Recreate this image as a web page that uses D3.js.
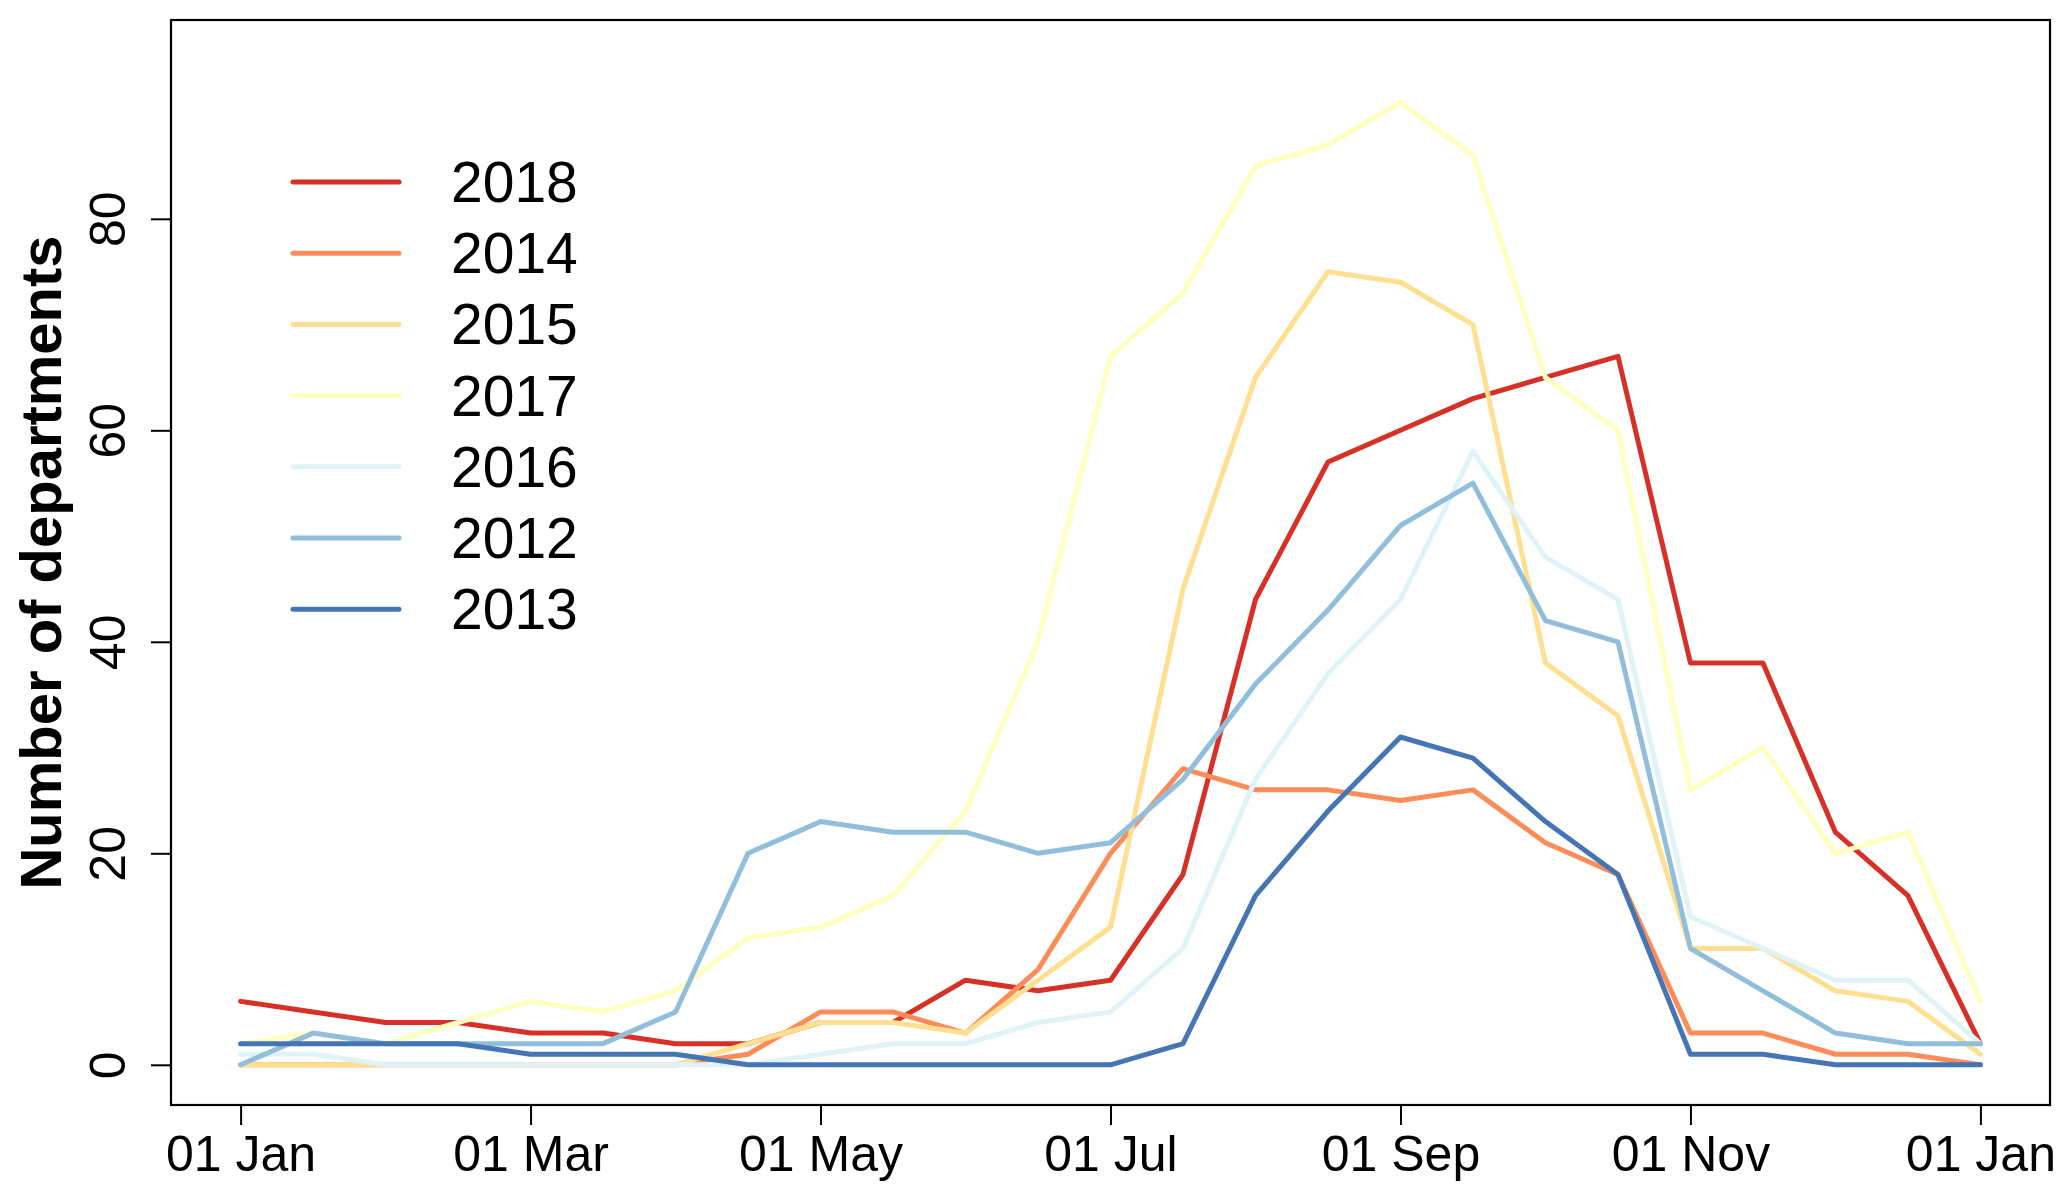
<!DOCTYPE html>
<html>
<head>
<meta charset="utf-8">
<script src="https://cdn.jsdelivr.net/npm/d3@7"></script>
<style>
  html, body { margin: 0; padding: 0; background: #ffffff; }
  svg { display: block; font-family: "Liberation Sans", Arial, Helvetica, sans-serif; }
</style>
</head>
<body>
<svg id="chart" width="2067" height="1200"></svg>
<script>
// ---- data (semi-monthly periods) ----
const periods = ["01 Jan","15 Jan","01 Feb","15 Feb","01 Mar","15 Mar","01 Apr","15 Apr",
                 "01 May","15 May","01 Jun","15 Jun","01 Jul","15 Jul","01 Aug","15 Aug",
                 "01 Sep","15 Sep","01 Oct","15 Oct","01 Nov","15 Nov","01 Dec","15 Dec","01 Jan"];
const tickLabels = ["01 Jan","01 Mar","01 May","01 Jul","01 Sep","01 Nov","01 Jan"];
const yTicks = [0, 20, 40, 60, 80];

const years = ["2018","2014","2015","2017","2016","2012","2013"];
const colors = ["#d73027","#fc8d59","#fee090","#ffffbf","#e0f3f8","#91bfdb","#4575b4"];

const v2018 = [6,5,4,4,3,3,2,2,4,4,8,7,8,18,44,57,60,63,65,67,38,38,22,16,2];
const v2014 = [0,0,0,0,0,0,0,1,5,5,3,9,20,28,26,26,25,26,21,18,3,3,1,1,0];
const v2015 = [0,0,0,0,0,0,0,2,4,4,3,8,13,45,65,75,74,70,38,33,11,11,7,6,1];
const v2017 = [2,3,2,4,6,5,7,12,13,16,24,40,67,73,85,87,91,86,65,60,26,30,20,22,6];
const v2016 = [1,1,0,0,0,0,0,0,1,2,2,4,5,11,27,37,44,58,48,44,14,11,8,8,2];
const v2012 = [0,3,2,2,2,2,5,20,23,22,22,20,21,27,36,43,51,55,42,40,11,7,3,2,2];
const v2013 = [2,2,2,2,1,1,1,0,0,0,0,0,0,2,16,24,31,29,23,18,1,1,0,0,0];

const seriesValues = [v2018, v2014, v2015, v2017, v2016, v2012, v2013];

// ---- layout ----
const svg = d3.select("#chart");
const plotL = 171, plotR = 2050, plotT = 20, plotB = 1105;
const nSteps = periods.length - 1;
const padX = nSteps * 0.04;
const x = d3.scaleLinear().domain([-padX, nSteps + padX]).range([plotL, plotR]);
const yMax = 95, padY = yMax * 0.04;
const y = d3.scaleLinear().domain([-padY, yMax + padY]).range([plotB, plotT]);

const LW = 5;

// lines
const line = d3.line().x((d, i) => x(i)).y(d => y(d));
seriesValues.forEach((vals, k) => {
  svg.append("path")
    .datum(vals)
    .attr("d", line)
    .attr("fill", "none")
    .attr("stroke", colors[k])
    .attr("stroke-width", LW)
    .attr("stroke-linejoin", "round")
    .attr("stroke-linecap", "round");
});

// box
svg.append("rect")
  .attr("x", plotL).attr("y", plotT)
  .attr("width", plotR - plotL).attr("height", plotB - plotT)
  .attr("fill", "none").attr("stroke", "#000").attr("stroke-width", 2.2);

// x axis
const tickIdx = d3.range(0, periods.length).filter(i => i % 4 === 0);
const xAxis = d3.axisBottom(x)
  .tickValues(tickIdx)
  .tickFormat((d, j) => tickLabels[j])
  .tickSize(20).tickPadding(8);
const gx = svg.append("g").attr("transform", `translate(0,${plotB})`).call(xAxis);
gx.select(".domain").remove();
gx.selectAll(".tick line").attr("stroke", "#000").attr("stroke-width", 2);
gx.selectAll(".tick text")
  .attr("fill", "#000")
  .attr("font-size", 50)
  .attr("font-family", "'Liberation Sans', Arial, sans-serif")
  .attr("dy", "0.76em");

// y axis
const yAxis = d3.axisLeft(y).tickValues(yTicks).tickSize(20).tickPadding(0);
const gy = svg.append("g").attr("transform", `translate(${plotL},0)`).call(yAxis);
gy.select(".domain").remove();
gy.selectAll(".tick line").attr("stroke", "#000").attr("stroke-width", 2);
gy.selectAll(".tick text")
  .attr("fill", "#000")
  .attr("font-size", 50)
  .attr("font-family", "'Liberation Sans', Arial, sans-serif")
  .attr("text-anchor", "middle")
  .attr("x", null).attr("dy", null)
  .attr("transform", "translate(-63,0) rotate(-90)")
  .attr("y", 0)
  .attr("dominant-baseline", "central");

// y label
svg.append("text")
  .attr("transform", `translate(${40},${(plotT + plotB) / 2}) rotate(-90)`)
  .attr("text-anchor", "middle")
  .attr("dominant-baseline", "central")
  .attr("font-size", 58)
  .attr("font-weight", "bold")
  .attr("fill", "#000")
  .text("Number of departments");

// legend
const legY0 = 182, legDy = 71.2;
years.forEach((yr, k) => {
  const yy = legY0 + k * legDy;
  svg.append("line")
    .attr("x1", 293).attr("x2", 399).attr("y1", yy).attr("y2", yy)
    .attr("stroke", colors[k]).attr("stroke-width", LW).attr("stroke-linecap", "round");
  svg.append("text")
    .attr("x", 451).attr("y", yy)
    .attr("dominant-baseline", "central")
    .attr("font-size", 57)
    .attr("fill", "#000")
    .text(yr);
});
</script>
</body>
</html>
